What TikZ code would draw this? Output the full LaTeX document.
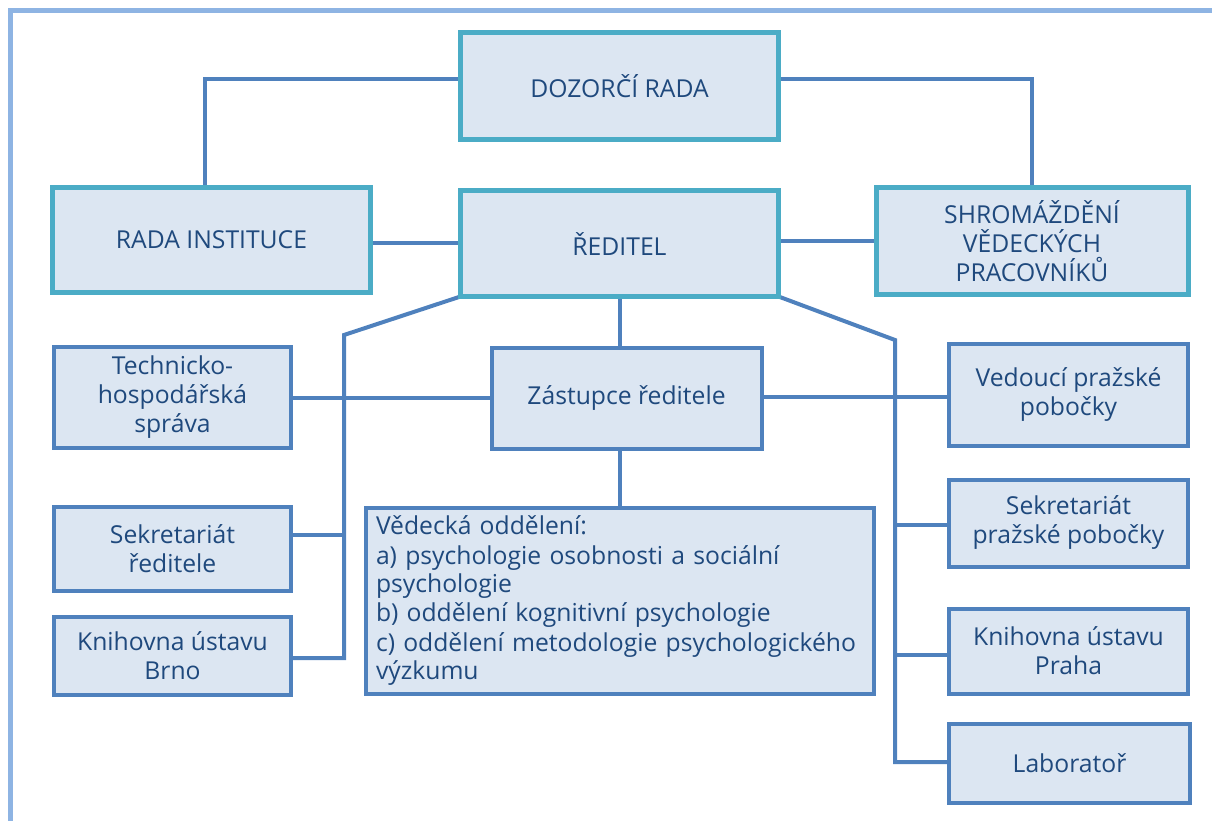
\documentclass[tikz,border=0pt]{standalone}
\usepackage{fontspec}
\setmainfont{Open Sans}
\usetikzlibrary{backgrounds}
\definecolor{boxfill}{HTML}{DCE6F2}
\definecolor{tealc}{HTML}{4BACC6}
\definecolor{bluec}{HTML}{4F81BD}
\definecolor{txt}{HTML}{1F497D}
\definecolor{framec}{HTML}{8EB4E3}
\begin{document}
\begin{tikzpicture}[x=1pt,y=-1pt,
  base/.style={rectangle, fill=boxfill, text=txt, font=\fontsize{24.7}{29}\selectfont, align=center, inner sep=0pt, outer sep=0pt},
  topbox/.style={base, draw=tealc, line width=5pt},
  lowbox/.style={base, draw=bluec, line width=4pt},
  conn/.style={draw=bluec, line width=4pt}]
\useasboundingbox (0,0) rectangle (1212,821);
\draw[framec, line width=5pt] (10.5,821) -- (10.5,10.5) -- (1212,10.5);

\node[topbox, minimum width=318pt, minimum height=107pt] (dozor) at (619.5,86) {DOZORČÍ RADA};
\node[topbox, minimum width=318pt, minimum height=105pt] (rada) at (211.5,240) {RADA INSTITUCE};
\node[topbox, minimum width=318pt, minimum height=106pt] (red) at (619.5,243.5) {ŘEDITEL};
\node[topbox, minimum width=312pt, minimum height=107pt] (shrom) at (1032,241) {SHROMÁŽDĚNÍ\\VĚDECKÝCH\\PRACOVNÍKŮ};

\node[lowbox, minimum width=237pt, minimum height=101pt] (tech) at (172.5,397) {Technicko-\\hospodářská\\správa};
\node[lowbox, minimum width=237pt, minimum height=84pt] (sekr) at (172.5,548.5) {Sekretariát\\ředitele};
\node[lowbox, minimum width=237pt, minimum height=78pt] (knihB) at (172.5,655.5) {Knihovna ústavu\\Brno};
\node[lowbox, minimum width=270pt, minimum height=101pt] (zast) at (626.5,398) {Zástupce ředitele};
\node[lowbox, minimum width=508pt, minimum height=186pt, inner xsep=10pt, text width=488pt, align=left] (ved) at (620,601) {Vědecká oddělení:\\a) psychologie osobnosti a sociální\\psychologie\\b) oddělení kognitivní psychologie\\c) oddělení metodologie psychologického\\výzkumu};
\node[lowbox, minimum width=239pt, minimum height=102pt] (vedP) at (1068.5,394.5) {Vedoucí pražské\\pobočky};
\node[lowbox, minimum width=239pt, minimum height=87pt] (sekrP) at (1068.5,523) {Sekretariát\\pražské pobočky};
\node[lowbox, minimum width=239pt, minimum height=85pt] (knihP) at (1068.5,651) {Knihovna ústavu\\Praha};
\node[lowbox, minimum width=241pt, minimum height=79pt] (lab) at (1069.5,763) {Laboratoř};

\begin{pgfonlayer}{background}
\coordinate (lc) at (344,335);
\coordinate (rc) at (895,340);
\draw[conn] (dozor.west |- 0,79) -| (205,0 |- rada.north);
\draw[conn] (dozor.east |- 0,79) -| (shrom.north);
\draw[conn] (rada.east |- 0,243) -- (red.west |- 0,243);
\draw[conn] (red.east |- 0,241) -- (shrom.west |- 0,241);
\draw[conn] (red.south west) -- (lc) |- (knihB.east |- 0,658);
\draw[conn] (sekr.east |- 0,535) -- (lc |- 0,535);
\draw[conn] (tech.east |- 0,398) -- (zast.west |- 0,398);
\draw[conn] (red.south east) -- (rc) |- (lab.west |- 0,762);
\draw[conn] (rc |- 0,525) -- (sekrP.west |- 0,525);
\draw[conn] (rc |- 0,655) -- (knihP.west |- 0,655);
\draw[conn] (zast.east |- 0,397) -- (vedP.west |- 0,397);
\draw[conn] (red.south) -- (red.south |- zast.north);
\draw[conn] (red.south |- zast.south) -- (red.south |- ved.north);
\end{pgfonlayer}
\end{tikzpicture}
\end{document}
